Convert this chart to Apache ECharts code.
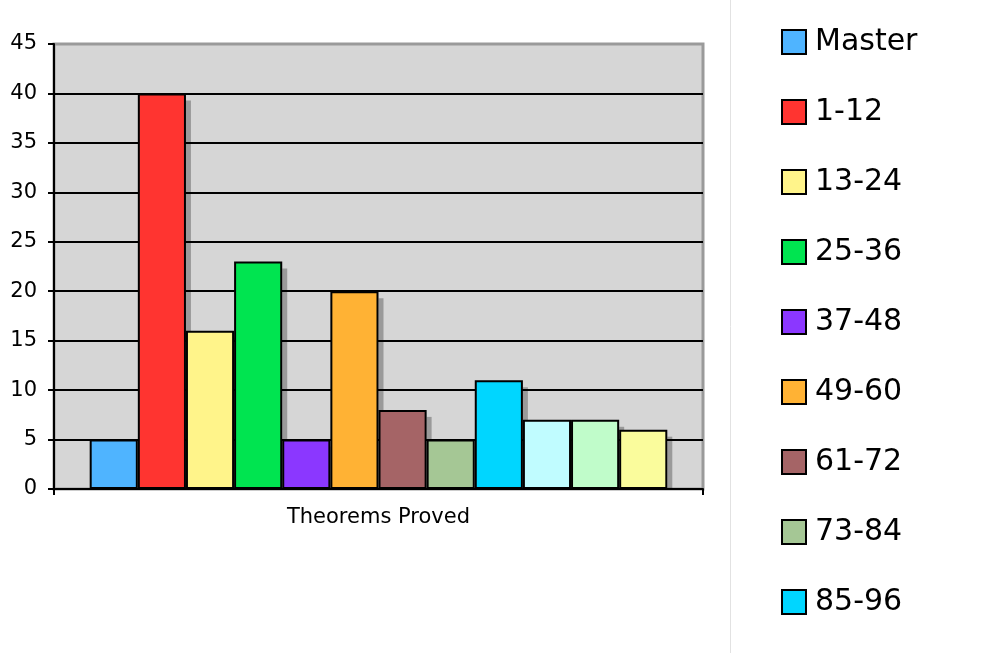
<!DOCTYPE html>
<html><head><meta charset="utf-8">
<script src="https://cdn.jsdelivr.net/npm/echarts@6/dist/echarts.min.js"></script>
<style>html,body{margin:0;padding:0;background:#fff}#c{width:991px;height:653px}</style>
</head><body><div id="c"></div>
<script>
const categories = ['Theorems Proved'];
const seriesNames = ['Master','1-12','13-24','25-36','37-48','49-60','61-72','73-84','85-96','97-108','109-120','121-132'];
const seriesValues = [5,40,16,23,5,20,8,5,11,7,7,6];
const seriesColors = ['#4fb4ff','#ff3430','#fff48a','#00e450','#8b37ff','#ffb234','#a56466','#a5c795','#00d6ff','#c0fcff','#c0fcca','#fafc9c'];
const legendNames = seriesNames.slice(0,9);
const yTicks = [0,5,10,15,20,25,30,35,40,45];

const GAP = 0.11;
const chart = echarts.init(document.getElementById('c'));
const series = seriesNames.map((n,i)=>({
  name:n, type:'bar', data:[seriesValues[i]], barGap:'0%', barCategoryGap:(GAP*100)+'%', z:3,
  itemStyle:{color:seriesColors[i], borderColor:'#000', borderWidth:2}
}));
series.push({
  name:'shadow', type:'custom', z:2, silent:true, clip:true,
  data: seriesValues.map((v,i)=>[0, v, i]),
  encode:{x:0, y:1},
  renderItem:function(params, api){
    const idx = api.value(2), v = api.value(1);
    const band = api.size([1,0])[0];
    const gw = band*(1-GAP), bw = gw/seriesNames.length;
    const base = api.coord([0,0]);
    const top = api.coord([0,v])[1];
    const x0 = base[0] - gw/2 + idx*bw;
    return {type:'rect', shape:{x:x0+bw, y:top+7, width:5, height:base[1]-top-7},
      style:{fill:'rgba(0,0,0,0.28)'}};
  }
});
chart.setOption({
  animation:false,
  backgroundColor:'#fff',
  textStyle:{fontFamily:'DejaVu Sans'},
  graphic:[{type:'rect', left:730, top:-2, shape:{width:270, height:660}, style:{fill:'#fff', stroke:'#e2e2e2', lineWidth:1}, z:-1}],
  grid:{left:54, top:44, right:288, bottom:164, show:true, backgroundColor:'#d6d6d6', borderColor:'#9a9a9a', borderWidth:3},
  legend:{orient:'vertical', left:776, top:22, data:legendNames, itemWidth:24, itemHeight:24, itemGap:40,
    icon:'rect', textStyle:{fontSize:30, color:'#000', fontFamily:'DejaVu Sans', padding:[0,0,0,4]},
    itemStyle:{borderColor:'#000', borderWidth:2}},
  xAxis:{type:'category', data:categories,
    axisLine:{lineStyle:{color:'#000', width:2}},
    axisTick:{show:true, length:6, lineStyle:{color:'#000', width:2}},
    axisLabel:{fontSize:21, color:'#000', margin:18, fontFamily:'DejaVu Sans'}},
  yAxis:{type:'value', min:yTicks[0], max:yTicks[yTicks.length-1], interval:5,
    axisLine:{show:true, lineStyle:{color:'#000', width:2}},
    axisTick:{show:true, length:6, lineStyle:{color:'#000', width:2}},
    axisLabel:{fontSize:21, color:'#000', margin:17, fontFamily:'DejaVu Sans'},
    splitLine:{show:true, lineStyle:{color:['#000','#000','#000','#000','#000','#000','#000','#000','#000','#9a9a9a'], width:2}}},
  series
});
</script></body></html>
